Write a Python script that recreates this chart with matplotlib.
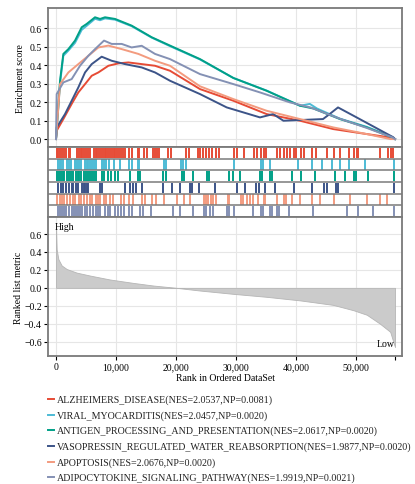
import matplotlib
matplotlib.use("Agg")
import matplotlib.pyplot as plt
from matplotlib.lines import Line2D
from matplotlib.ticker import FuncFormatter

plt.rcParams["font.family"] = ["Liberation Serif", "DejaVu Serif"]

N_GENES = 56500

set_names = [
    "ALZHEIMERS_DISEASE(NES=2.0537,NP=0.0081)",
    "VIRAL_MYOCARDITIS(NES=2.0457,NP=0.0020)",
    "ANTIGEN_PROCESSING_AND_PRESENTATION(NES=2.0617,NP=0.0020)",
    "VASOPRESSIN_REGULATED_WATER_REABSORPTION(NES=1.9877,NP=0.0020)",
    "APOPTOSIS(NES=2.0676,NP=0.0020)",
    "ADIPOCYTOKINE_SIGNALING_PATHWAY(NES=1.9919,NP=0.0021)",
]
set_colors = ["#E64B35", "#4DBBD5", "#00A087", "#3C5488", "#F39B7F", "#8491B4"]

# running enrichment score (rank, ES)
alz_rank = [0, 110, 1220, 2610, 3720, 4840, 5950, 7060, 8730, 10400, 12060, 14280,
            16500, 19000, 24000, 29560, 35100, 40670, 46200, 51800, 55400, 56500]
alz_es = [0.0, 0.045, 0.108, 0.19, 0.252, 0.297, 0.342, 0.36, 0.396, 0.409, 0.414, 0.405,
          0.396, 0.369, 0.27, 0.207, 0.135, 0.099, 0.054, 0.027, 0.01, 0.0]

viral_rank = [0, 670, 1220, 2060, 3170, 4280, 5110, 6500, 7340, 8170, 9840, 12600,
              15950, 19000, 24000, 29560, 35100, 40670, 42300, 43500, 47330, 51800, 55950, 56500]
viral_es = [0.0, 0.30, 0.45, 0.478, 0.52, 0.59, 0.612, 0.65, 0.642, 0.652, 0.645, 0.61,
            0.548, 0.502, 0.43, 0.33, 0.262, 0.18, 0.19, 0.165, 0.11, 0.066, 0.012, 0.0]

antigen_rank = [0, 670, 1220, 2060, 3170, 4280, 5110, 6500, 7340, 8170, 9840, 12600,
                15950, 19000, 24000, 29560, 35100, 40670, 42900, 47330, 51800, 55950, 56500]
antigen_es = [0.0, 0.315, 0.46, 0.486, 0.532, 0.604, 0.622, 0.658, 0.649, 0.658, 0.649, 0.613,
              0.55, 0.505, 0.432, 0.33, 0.261, 0.18, 0.165, 0.108, 0.063, 0.01, 0.0]

vaso_rank = [0, 110, 1500, 2610, 3720, 4840, 5950, 7610, 9280, 11500, 14280, 16500,
             19000, 24000, 28450, 34000, 36200, 37900, 44500, 45600, 47000, 50100, 56200, 56500]
vaso_es = [0.0, 0.063, 0.135, 0.207, 0.279, 0.36, 0.405, 0.445, 0.423, 0.405, 0.387, 0.36,
           0.315, 0.243, 0.171, 0.117, 0.135, 0.099, 0.108, 0.135, 0.171, 0.117, 0.01, 0.0]

apop_rank = [0, 670, 2060, 3720, 5390, 7060, 8730, 10950, 13730, 16500, 19000, 24000,
             29560, 35100, 40670, 46200, 51800, 55700, 56500]
apop_es = [0.0, 0.297, 0.36, 0.405, 0.45, 0.495, 0.505, 0.486, 0.46, 0.423, 0.396, 0.285,
           0.216, 0.153, 0.108, 0.063, 0.027, 0.0, 0.0]

adipo_rank = [0, 110, 1220, 2610, 4000, 5390, 6500, 8000, 9280, 10950, 12600, 14280,
              16500, 19000, 24000, 29560, 34000, 39000, 42500, 47300, 51800, 56000, 56500]
adipo_es = [0.0, 0.243, 0.306, 0.324, 0.396, 0.45, 0.486, 0.532, 0.514, 0.514, 0.495, 0.504,
            0.46, 0.432, 0.351, 0.297, 0.252, 0.198, 0.17, 0.11, 0.06, 0.01, 0.0]

# hit positions (thousands of ranks)
alz_hits = [0.1, 0.4, 0.7, 1.0, 1.3, 1.6, 2.1, 2.4, 3.5, 3.8, 4.1, 4.4, 4.7, 5.0, 5.3, 5.6,
            6.3, 6.6, 6.9, 7.2, 7.5, 7.8, 8.1, 8.4, 8.7, 9.0, 9.3, 9.6, 9.9, 10.2, 10.5, 10.8,
            11.1, 11.5, 12.2, 12.7, 13.6, 13.9, 14.7, 15.2, 16.1, 16.5, 16.9, 17.2, 18.6, 19.1,
            21.6, 22.1, 23.6, 24.0, 24.5, 25.0, 25.5, 26.0, 26.6, 27.1, 29.7, 30.2, 31.4,
            33.0, 33.5, 34.1, 34.6, 35.0, 36.9, 37.4, 38.0, 38.5, 39.0, 39.6, 40.0, 40.8, 41.3,
            42.7, 43.3, 45.1, 46.3, 47.4, 48.8, 49.7, 50.1, 50.3, 54.0, 55.3, 55.8, 56.1]
viral_hits = [0.3, 0.6, 0.9, 1.2, 1.9, 2.2, 2.5, 3.2, 3.5, 3.8, 4.1, 4.8, 5.1, 5.4, 5.7, 6.0,
              6.3, 6.6, 7.7, 8.0, 8.4, 8.8, 9.6, 10.6, 12.2, 12.6, 13.6, 13.9, 18.0, 18.4,
              20.8, 21.2, 21.6, 29.7, 34.2, 34.5, 35.7, 40.4, 42.7, 44.3, 46.0, 47.4, 48.8,
              51.5, 56.3]
antigen_hits = [0.2, 0.5, 0.8, 1.1, 1.4, 1.9, 2.2, 2.5, 2.8, 3.3, 3.6, 3.9, 4.2, 4.7, 5.0,
                5.3, 5.6, 6.0, 6.4, 6.7, 7.6, 8.0, 8.7, 9.1, 9.9, 10.3, 12.4, 13.6, 14.0, 17.9,
                18.3, 21.0, 21.3, 22.9, 25.1, 25.5, 28.8, 29.5, 30.7, 34.0, 34.4, 35.6, 36.0,
                39.3, 40.9, 43.2, 46.5, 48.2, 49.6, 50.0, 52.0, 56.4]
vaso_hits = [0.4, 0.9, 1.2, 1.7, 2.1, 2.6, 2.9, 3.4, 3.7, 4.3, 4.6, 4.9, 5.1, 5.4, 7.3, 7.7,
             11.5, 12.3, 12.9, 13.4, 14.3, 17.9, 19.3, 20.7, 22.3, 22.6, 23.8, 26.5, 30.1,
             31.5, 33.3, 33.8, 34.8, 36.5, 39.6, 42.6, 44.6, 45.1, 46.6, 47.0, 56.4]
apop_hits = [0.2, 0.6, 1.0, 1.4, 1.8, 2.4, 2.8, 3.2, 3.8, 4.2, 4.6, 5.2, 5.6, 6.0, 6.6, 7.0,
             7.4, 8.0, 8.4, 9.0, 9.5, 10.8, 11.3, 12.1, 12.9, 14.4, 14.8, 16.0, 16.6, 18.0,
             20.1, 21.3, 22.3, 24.7, 25.0, 25.4, 25.8, 26.2, 26.6, 28.6, 28.9, 30.8, 31.1,
             31.9, 32.3, 32.8, 33.7, 34.6, 34.9, 36.8, 38.0, 38.4, 39.3, 40.7, 42.6, 44.0,
             46.3, 49.0, 51.8, 54.0, 55.1]
adipo_hits = [0.3, 0.7, 1.0, 1.4, 1.7, 2.1, 2.6, 3.0, 3.3, 3.7, 4.0, 4.4, 4.8, 5.2, 5.6, 6.2,
              6.6, 7.0, 7.4, 8.1, 8.6, 9.0, 9.9, 10.3, 10.9, 11.3, 12.1, 12.6, 14.0, 14.5,
              15.9, 19.5, 20.7, 22.9, 24.6, 25.0, 25.7, 26.1, 28.5, 28.8, 29.6, 32.9, 34.1,
              34.5, 35.6, 36.0, 36.8, 37.2, 38.8, 42.9, 48.5, 50.4, 52.9, 56.4]

# ranked list metric (rank, value)
metric_rank = [0, 110, 390, 940, 1780, 3440, 5670, 9000, 12900, 16200, 20100, 24000,
               29560, 35100, 40700, 46200, 49600, 51800, 54000, 55700, 56300, 56500]
metric_val = [0.70, 0.43, 0.32, 0.25, 0.21, 0.17, 0.137, 0.093, 0.055, 0.026, 0.0, -0.03,
              -0.067, -0.10, -0.14, -0.19, -0.25, -0.30, -0.40, -0.49, -0.62, -0.66]

curves = [(alz_rank, alz_es), (viral_rank, viral_es), (antigen_rank, antigen_es),
          (vaso_rank, vaso_es), (apop_rank, apop_es), (adipo_rank, adipo_es)]
hits = [alz_hits, viral_hits, antigen_hits, vaso_hits, apop_hits, adipo_hits]

FRAME = "#7a7a7a"
GRID = "#e6e6e6"
XLIM = (-1333, 57667)


def style_frame(ax):
    for s in ax.spines.values():
        s.set_color(FRAME)
        s.set_linewidth(1.3)


fig = plt.figure(figsize=(4.15, 4.85), dpi=100)
ax_es = fig.add_axes([0.1157, 0.6948, 0.853, 0.2866])
ax_hit = fig.add_axes([0.1157, 0.5505, 0.853, 0.1443])
ax_rk = fig.add_axes([0.1157, 0.2639, 0.853, 0.2866])

# enrichment panel
for (r, es), c in zip(curves, set_colors):
    ax_es.plot(r, es, color=c, lw=1.4, zorder=3)
ax_es.set_xlim(*XLIM)
ax_es.set_ylim(-0.043, 0.708)
ax_es.set_yticks([0.0, 0.1, 0.2, 0.3, 0.4, 0.5, 0.6])
ax_es.set_xticks([0, 10000, 20000, 30000, 40000, 50000])
ax_es.tick_params(axis="x", length=0, labelbottom=False)
ax_es.tick_params(axis="y", labelsize=7, length=3, width=0.8, pad=1.5)
ax_es.grid(True, color=GRID, lw=0.8)
ax_es.set_ylabel("Enrichment score", fontsize=7, labelpad=3)
style_frame(ax_es)

# hit strips
n_sets = len(hits)
for i, (h, c) in enumerate(zip(hits, set_colors)):
    y0 = n_sets - 1 - i
    ax_hit.vlines([v * 1000 for v in h], y0 + 0.06, y0 + 0.94, color=c, lw=1.4)
for y in range(1, n_sets):
    ax_hit.axhline(y, color=FRAME, lw=1.1)
ax_hit.set_xlim(*XLIM)
ax_hit.set_ylim(0, n_sets)
ax_hit.set_xticks([])
ax_hit.set_yticks([])
style_frame(ax_hit)

# ranked list metric
ax_rk.fill_between(metric_rank, metric_val, 0, color="#cbcbcb", lw=0.6, edgecolor="#b5b5b5")
ax_rk.set_xlim(*XLIM)
ax_rk.set_ylim(-0.76, 0.79)
ax_rk.set_yticks([-0.6, -0.4, -0.2, 0.0, 0.2, 0.4, 0.6])
ax_rk.set_xticks([0, 10000, 20000, 30000, 40000, 50000])
ax_rk.set_xticks([N_GENES], minor=True)
ax_rk.xaxis.set_major_formatter(FuncFormatter(lambda v, p: f"{int(v):,}"))
ax_rk.tick_params(axis="both", which="both", labelsize=7, length=3, width=0.8, pad=1.5)
ax_rk.grid(True, color=GRID, lw=0.8)
ax_rk.set_axisbelow(True)
ax_rk.set_ylabel("Ranked list metric", fontsize=7, labelpad=1)
ax_rk.set_xlabel("Rank in Ordered DataSet", fontsize=7, labelpad=1)
ax_rk.text(-300, 0.68, "High", fontsize=7, va="center", ha="left")
ax_rk.text(N_GENES, -0.62, "Low", fontsize=7, va="center", ha="right")
style_frame(ax_rk)

# legend below
leg_y = [400, 416, 431, 447, 463, 478]
for name, c, yp in zip(set_names, set_colors, leg_y):
    yf = 1 - yp / 485
    fig.add_artist(Line2D([48 / 415, 54 / 415], [yf, yf], color=c, lw=1.4))
    fig.text(57 / 415, yf, name, fontsize=7.2, va="center", ha="left", color="#222222")

fig.savefig("out.png", dpi=100)
